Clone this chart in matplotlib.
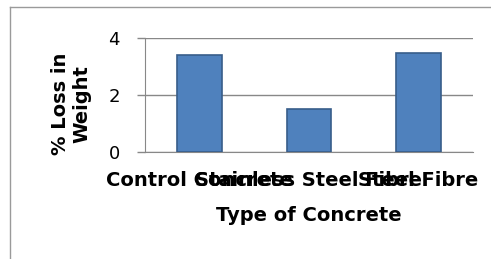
import matplotlib.pyplot as plt
from matplotlib.lines import Line2D

# the reference looks horizontally stretched, DejaVu Sans (wide) fits it best
plt.rcParams['font.family'] = ['DejaVu Sans']

# data
categories = ["Control Concrete", "Stainless Steel Fibre", "Steel Fibre"]
loss = [3.42, 1.52, 3.48]
yticks = [0, 2, 4]

fig = plt.figure(figsize=(4.91, 2.59), dpi=100)
ax = fig.add_axes([0.2953, 0.4131, 0.668, 0.4402])

x = range(len(categories))
ax.bar(x, loss, width=0.41, color='#4F81BD', edgecolor='#385D8A', linewidth=1.2, zorder=3)

ax.set_xlim(-0.5, 2.5)
ax.set_ylim(0, 4)
ax.set_yticks(yticks)
ax.set_yticklabels([str(v) for v in yticks], fontsize=13)
ax.set_xticks(list(x))
ax.set_xticklabels(categories, fontsize=14, fontweight='bold')
ax.tick_params(axis='x', length=0, pad=14)
ax.tick_params(axis='y', length=6, width=1, color='#888888', pad=12)
ax.yaxis.grid(True, color='#888888', linewidth=1, zorder=0)

for side in ['top', 'right']:
    ax.spines[side].set_visible(False)
ax.spines['left'].set_color('#888888')
ax.spines['bottom'].set_color('#888888')

ax.set_xlabel("Type of Concrete", fontsize=14, fontweight='bold', labelpad=11)

fig.text(71 / 491, 1 - 104 / 259, "% Loss in\nWeight", rotation=90, fontsize=14,
         fontweight='bold', ha='center', va='center', multialignment='center',
         linespacing=1.2)

# outer chart frame (only left and top edges visible in the crop)
fig.add_artist(Line2D([10 / 491, 10 / 491], [0, 1 - 7 / 259], transform=fig.transFigure,
                      color='#9a9a9a', linewidth=1))
fig.add_artist(Line2D([10 / 491, 1], [1 - 7 / 259, 1 - 7 / 259], transform=fig.transFigure,
                      color='#9a9a9a', linewidth=1))

fig.savefig('out.png', dpi=100)
